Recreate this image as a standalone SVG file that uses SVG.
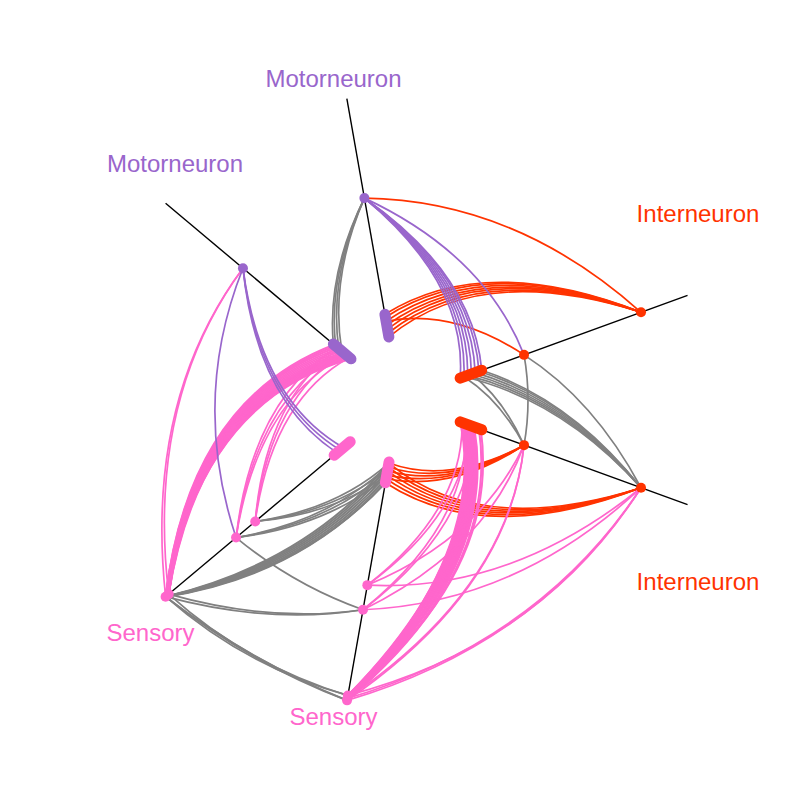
<svg xmlns="http://www.w3.org/2000/svg" width="800" height="800" viewBox="0 0 800 800">
<style>
.ax{stroke:#000;stroke-width:1.4;fill:none}
.e{fill:none;stroke-width:1.7}
.b{stroke-width:2}
.g{stroke:#808080}
.r{stroke:#ff3300}
.p{stroke:#ff66cc}
.m{stroke:#9966cc}
.cl{stroke-width:11;stroke-linecap:round;fill:none}
.lab{font-family:"Liberation Sans",Arial,sans-serif;font-size:24px;text-anchor:middle}
</style>
<rect width="800" height="800" fill="#fff"/>
<g id="axes">
<line class="ax" x1="389.06" y1="337.96" x2="346.86" y2="98.65"/>
<line class="ax" x1="351.74" y1="359.5" x2="165.59" y2="203.31"/>
<line class="ax" x1="459.2" y1="378.45" x2="687.55" y2="295.34"/>
<line class="ax" x1="459.2" y1="421.55" x2="687.55" y2="504.66"/>
<line class="ax" x1="389.06" y1="462.04" x2="346.86" y2="701.35"/>
<line class="ax" x1="351.74" y1="440.5" x2="165.59" y2="596.69"/>
</g>
<g id="connectors">
<g class="e g">
<path d="M333.35,344.08Q327,273.56 364.4,198.11"/>
<path d="M335.65,346.01Q327.75,274.86 364.4,198.11"/>
<path d="M338.72,348.58Q328.75,276.59 364.4,198.11"/>
<path d="M341.78,351.15Q329.75,278.32 364.4,198.11"/>
<path d="M463.9,376.74Q562.25,400 641.03,487.73"/>
<path d="M467.66,375.37Q564.25,400 641.03,487.73"/>
<path d="M471.42,374.01Q566.25,400 641.03,487.73"/>
<path d="M475.18,372.64Q568.25,400 641.03,487.73"/>
<path d="M478.93,371.27Q570.25,400 641.03,487.73"/>
<path d="M481.75,370.24Q571.75,400 641.03,487.73"/>
<path d="M463.9,376.74Q500,400 524.04,445.15"/>
<path d="M471.42,374.01Q504,400 524.04,445.15"/>
<path d="M524.04,354.85Q532,400 524.04,445.15"/>
<path d="M524.04,354.85Q594.25,400 641.03,487.73"/>
<path d="M388.89,463.03Q336.75,509.55 255.22,521.49"/>
<path d="M387.84,468.94Q335.25,512.15 255.22,521.49"/>
<path d="M386.8,474.85Q333.75,514.75 255.22,521.49"/>
<path d="M388.54,465Q330,521.24 236.07,537.56"/>
<path d="M387.5,470.91Q328.5,523.84 236.07,537.56"/>
<path d="M386.46,476.82Q327,526.44 236.07,537.56"/>
<path class="b" d="M388.89,463.03Q306,562.81 165.59,596.69"/>
<path class="b" d="M388.19,466.97Q304.5,565.41 165.59,596.69"/>
<path class="b" d="M387.5,470.91Q303,568.01 165.59,596.69"/>
<path class="b" d="M386.8,474.85Q301.5,570.61 165.59,596.69"/>
<path class="b" d="M386.11,478.78Q300,573.21 165.59,596.69"/>
<path class="b" d="M385.41,482.72Q299,574.94 165.59,596.69"/>
<path class="b" d="M385.41,482.72Q298,576.67 165.59,596.69"/>
<path d="M363.01,609.76Q293.25,584.9 236.07,537.56"/>
<path d="M363.01,609.76Q270.25,624.73 165.59,596.69"/>
<path d="M363.01,609.76Q271.25,623 168.66,594.12"/>
<path d="M347.04,700.37Q249.5,660.67 165.59,596.69"/>
<path d="M347.04,700.37Q248.25,662.84 165.59,596.69"/>
<path d="M347.9,695.44Q247,665 168.66,594.12"/>
<path d="M347.9,695.44Q245.75,667.17 165.59,596.69"/>
</g>
<g class="e r">
<path d="M388.89,336.97Q480.13,261.22 641.03,312.27"/>
<path d="M388.19,333.03Q481.13,259.49 641.03,312.27"/>
<path d="M387.5,329.09Q482.13,257.76 641.03,312.27"/>
<path d="M386.8,325.15Q483.13,256.02 641.03,312.27"/>
<path d="M386.11,321.22Q484.13,254.29 641.03,312.27"/>
<path d="M385.41,317.28Q485.13,252.56 641.03,312.27"/>
<path d="M384.89,314.32Q485.88,251.26 641.03,312.27"/>
<path d="M364.4,198.11Q515.38,200.16 641.03,312.27"/>
<path d="M386.11,321.22Q453,308.2 524.04,354.85"/>
<path d="M524.04,445.15Q449,484.87 388.89,463.03"/>
<path d="M524.04,445.15Q450,486.6 388.19,466.97"/>
<path d="M524.04,445.15Q451,488.34 387.5,470.91"/>
<path d="M524.04,445.15Q452,490.07 386.8,474.85"/>
<path d="M524.04,445.15Q453,491.8 386.11,478.78"/>
<path d="M641.03,487.73Q480.13,538.78 388.89,463.03"/>
<path d="M641.03,487.73Q481.13,540.51 388.19,466.97"/>
<path d="M641.03,487.73Q482.13,542.25 387.5,470.91"/>
<path d="M641.03,487.73Q483.13,543.98 386.8,474.85"/>
<path d="M641.03,487.73Q484.13,545.71 386.11,478.78"/>
<path d="M641.03,487.73Q485.13,547.44 385.41,482.72"/>
</g>
<g class="e p">
<path class="b" d="M165.59,596.69Q201,400 350.97,358.86"/>
<path class="b" d="M168.66,594.12Q200.2,400 350.2,358.2"/>
<path class="b" d="M165.59,596.69Q199.4,400 349.44,357.58"/>
<path class="b" d="M168.66,594.12Q198.6,400 348.7,356.9"/>
<path class="b" d="M165.59,596.69Q197.8,400 347.91,356.29"/>
<path class="b" d="M168.66,594.12Q197,400 347.1,355.6"/>
<path class="b" d="M165.59,596.69Q196.2,400 346.38,355"/>
<path class="b" d="M168.66,594.12Q195.4,400 345.6,354.4"/>
<path class="b" d="M165.59,596.69Q194.6,400 344.85,353.72"/>
<path class="b" d="M168.66,594.12Q193.8,400 343.31,352.43"/>
<path class="b" d="M165.59,596.69Q193,400 341.78,351.15"/>
<path class="b" d="M168.66,594.12Q192.2,400 340.25,349.86"/>
<path class="b" d="M165.59,596.69Q191.4,400 338.72,348.58"/>
<path class="b" d="M168.66,594.12Q190.6,400 337.18,347.29"/>
<path class="b" d="M165.59,596.69Q189.8,400 335.65,346.01"/>
<path class="b" d="M165.59,596.69Q189,400 334.12,344.72"/>
<path d="M236.07,537.56Q258,400 346.38,355"/>
<path d="M236.07,537.56Q255,400 341.78,351.15"/>
<path d="M236.07,537.56Q252,400 337.18,347.29"/>
<path d="M255.22,521.49Q272.5,400 349.44,357.58"/>
<path d="M255.22,521.49Q268.5,400 343.31,352.43"/>
<path d="M255.22,521.49Q265.5,400 338.72,348.58"/>
<path d="M165.59,596.69Q144.5,400 242.96,268.23"/>
<path d="M168.66,594.12Q146,400 242.96,268.23"/>
<path class="b" d="M460.14,421.89Q487.5,551.56 347.04,700.37"/>
<path class="b" d="M461.1,422.2Q488.25,552.85 347.9,695.44"/>
<path class="b" d="M462.02,422.57Q489,554.15 347.9,695.44"/>
<path class="b" d="M463,422.9Q489.75,555.45 347.04,700.37"/>
<path class="b" d="M463.9,423.26Q490.5,556.75 347.04,700.37"/>
<path class="b" d="M464.8,423.6Q491.25,558.05 347.9,695.44"/>
<path class="b" d="M465.78,423.94Q492,559.35 347.9,695.44"/>
<path class="b" d="M466.7,424.3Q492.75,560.65 347.04,700.37"/>
<path class="b" d="M467.66,424.63Q493.5,561.95 347.04,700.37"/>
<path class="b" d="M468.6,425Q494.25,563.25 347.9,695.44"/>
<path class="b" d="M469.54,425.31Q495,564.55 347.9,695.44"/>
<path class="b" d="M470.5,425.6Q495.75,565.84 347.04,700.37"/>
<path class="b" d="M471.42,425.99Q496.5,567.14 347.04,700.37"/>
<path class="b" d="M472.4,426.3Q497.25,568.44 347.9,695.44"/>
<path class="b" d="M473.3,426.68Q498,569.74 347.9,695.44"/>
<path class="b" d="M474.2,427Q498.75,571.04 347.04,700.37"/>
<path class="b" d="M478.93,428.73Q499.5,572.34 347.04,700.37"/>
<path class="b" d="M480.81,429.41Q500.5,574.07 347.9,695.44"/>
<path d="M465.78,423.94Q470.75,522.54 363.01,609.76"/>
<path d="M473.3,426.68Q472.75,526 363.01,609.76"/>
<path d="M462.02,422.57Q463.5,509.99 367.35,585.14"/>
<path d="M469.54,425.31Q465.5,513.45 367.35,585.14"/>
<path d="M524.04,445.15Q509.25,589.23 347.04,700.37"/>
<path d="M524.04,445.15Q508.75,588.36 347.38,698.4"/>
<path d="M524.04,445.15Q486.25,549.39 363.01,609.76"/>
<path d="M524.04,445.15Q480,538.56 367.35,585.14"/>
<path d="M641.03,487.73Q540.38,643.14 347.04,700.37"/>
<path d="M641.03,487.73Q539.5,641.62 347.38,698.4"/>
<path d="M641.03,487.73Q541.25,644.66 347.9,695.44"/>
<path d="M641.03,487.73Q517.38,603.3 363.01,609.76"/>
<path d="M641.03,487.73Q511.13,592.47 367.35,585.14"/>
</g>
<g class="e m">
<path d="M364.4,198.11Q467.25,283.52 460.14,378.11"/>
<path d="M364.4,198.11Q468.25,281.79 463.9,376.74"/>
<path d="M364.4,198.11Q469.25,280.05 467.66,375.37"/>
<path d="M364.4,198.11Q470.25,278.32 471.42,374.01"/>
<path d="M364.4,198.11Q471.25,276.59 475.18,372.64"/>
<path d="M364.4,198.11Q472.25,274.86 478.93,371.27"/>
<path d="M364.4,198.11Q473,273.56 481.75,370.24"/>
<path d="M364.4,198.11Q484.25,254.07 524.04,354.85"/>
<path d="M343.31,447.57Q260.5,400 242.96,268.23"/>
<path d="M340.25,450.14Q258.5,400 242.96,268.23"/>
<path d="M337.18,452.71Q256.5,400 242.96,268.23"/>
<path d="M236.07,537.56Q190.5,400 242.96,268.23"/>
</g>
</g>
<g id="node-m1-cluster"><line class="cl" stroke="#9966cc" x1="388.89" y1="336.97" x2="384.89" y2="314.32"/></g>
<g id="node-m2-cluster"><line class="cl" stroke="#9966cc" x1="350.97" y1="358.86" x2="333.35" y2="344.08"/></g>
<g id="node-i1-cluster"><line class="cl" stroke="#ff3300" x1="460.14" y1="378.11" x2="481.75" y2="370.24"/></g>
<g id="node-i2-cluster"><line class="cl" stroke="#ff3300" x1="460.14" y1="421.89" x2="481.75" y2="429.76"/></g>
<g id="node-s2-cluster"><line class="cl" stroke="#ff66cc" x1="389.06" y1="462.04" x2="385.41" y2="482.72"/></g>
<g id="node-s1-cluster"><line class="cl" stroke="#ff66cc" x1="350.21" y1="441.78" x2="334.12" y2="455.28"/></g>
<g id="node-m1"><circle cx="364.4" cy="198.11" r="5" fill="#9966cc"/></g>
<g id="node-m2"><circle cx="242.96" cy="268.23" r="5" fill="#9966cc"/></g>
<g id="node-i1a"><circle cx="524.04" cy="354.85" r="5" fill="#ff3300"/></g>
<g id="node-i1b"><circle cx="641.03" cy="312.27" r="5" fill="#ff3300"/></g>
<g id="node-i2a"><circle cx="524.04" cy="445.15" r="5" fill="#ff3300"/></g>
<g id="node-i2b"><circle cx="641.03" cy="487.73" r="5" fill="#ff3300"/></g>
<g id="node-s1a"><circle cx="255.22" cy="521.49" r="5" fill="#ff66cc"/></g>
<g id="node-s1b"><circle cx="236.07" cy="537.56" r="5" fill="#ff66cc"/></g>
<g id="node-s1c"><circle cx="165.59" cy="596.69" r="5" fill="#ff66cc"/><circle cx="168.66" cy="594.12" r="5" fill="#ff66cc"/></g>
<g id="node-s2a"><circle cx="367.35" cy="585.14" r="5" fill="#ff66cc"/></g>
<g id="node-s2b"><circle cx="363.01" cy="609.76" r="5" fill="#ff66cc"/></g>
<g id="node-s2c"><circle cx="347.04" cy="700.37" r="5" fill="#ff66cc"/><circle cx="347.9" cy="695.44" r="5" fill="#ff66cc"/></g>
<g id="labels">
<text class="lab" x="333.5" y="87" fill="#9966cc">Motorneuron</text>
<text class="lab" x="175" y="172" fill="#9966cc">Motorneuron</text>
<text class="lab" x="698" y="222" fill="#ff3300">Interneuron</text>
<text class="lab" x="698" y="590" fill="#ff3300">Interneuron</text>
<text class="lab" x="150.5" y="641" fill="#ff66cc">Sensory</text>
<text class="lab" x="333.5" y="725" fill="#ff66cc">Sensory</text>
</g>
</svg>
